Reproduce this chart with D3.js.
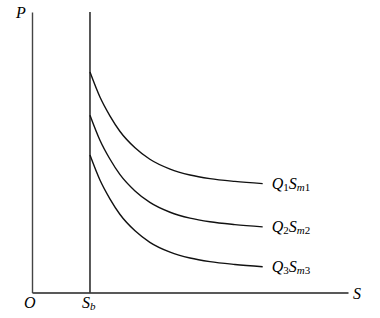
<!DOCTYPE html>
<html>
<head>
<meta charset="utf-8">
<script src="https://cdn.jsdelivr.net/npm/d3@7"></script>
<style>
  html, body { margin: 0; padding: 0; background: #fff; }
  svg { display: block; }
  text { font-family: "Liberation Serif", "Times New Roman", serif; fill: #000; }
</style>
</head>
<body>
<svg id="chart" width="380" height="318"></svg>
<script>
// ---- data ----
const sValues = [18.35, 21.5, 24.7, 27.8, 32.6, 37.3, 43.7, 50, 56.3, 64.2, 73];
const curve1 = [78.6, 69.7, 62.9, 57.5, 51.6, 47.5, 44.0, 41.9, 40.6, 39.6, 38.8];
const curve2 = [63.2, 54.3, 47.5, 42.1, 36.2, 32.1, 28.6, 26.5, 25.2, 24.2, 23.4];
const curve3 = [49.0, 40.1, 33.3, 27.9, 22.0, 17.9, 14.4, 12.3, 11.0, 10.0, 9.2];
const curveLabels = [["Q", "1", "S", "m1"], ["Q", "2", "S", "m2"], ["Q", "3", "S", "m3"]];
const sb = 18.35;

const svg = d3.select("#chart");
const x = d3.scaleLinear().domain([0, 100]).range([32, 348]);
const y = d3.scaleLinear().domain([0, 100]).range([292.5, 12]);

// axes (no ticks)
svg.append("g").attr("transform", `translate(0,${y(0)})`)
  .call(d3.axisBottom(x).tickValues([]).tickSizeOuter(0))
  .select(".domain").attr("stroke", "#222").attr("stroke-width", 1.4);
svg.append("g").attr("transform", `translate(${x(0)},0)`)
  .call(d3.axisLeft(y).tickValues([]).tickSizeOuter(0))
  .select(".domain").attr("stroke", "#444").attr("stroke-width", 1.4);

// Sb vertical line
svg.append("line")
  .attr("x1", x(sb)).attr("x2", x(sb))
  .attr("y1", y(100)).attr("y2", y(0))
  .attr("stroke", "#111").attr("stroke-width", 1.4);

const line = d3.line().x(d => x(d[0])).y(d => y(d[1])).curve(d3.curveMonotoneX);
[curve1, curve2, curve3].forEach((c, i) => {
  const pts = sValues.map((s, j) => [s, c[j]]);
  svg.append("path").attr("d", line(pts))
    .attr("fill", "none").attr("stroke", "#111").attr("stroke-width", 1.4);
  const lab = curveLabels[i];
  const t = svg.append("text")
    .attr("x", x(sValues[sValues.length - 1]) + 9)
    .attr("y", y(c[c.length - 1]) + 5)
    .attr("font-size", 16);
  t.append("tspan").attr("font-style", "italic").text(lab[0]);
  t.append("tspan").attr("font-size", 11).attr("dy", 2).text(lab[1]);
  t.append("tspan").attr("font-style", "italic").attr("dy", -2).text(lab[2]);
  t.append("tspan").attr("font-size", 11).attr("dy", 2).attr("font-style", "italic").text(lab[3].slice(0, 1));
  t.append("tspan").attr("font-size", 11).text(lab[3].slice(1));
});

// axis labels
svg.append("text").attr("x", 16).attr("y", 18).attr("font-size", 16)
  .attr("font-style", "italic").text("P");
svg.append("text").attr("x", 24).attr("y", 308).attr("font-size", 16)
  .attr("font-style", "italic").text("O");
const sbt = svg.append("text").attr("x", x(sb) - 8).attr("y", 308).attr("font-size", 16);
sbt.append("tspan").attr("font-style", "italic").text("S");
sbt.append("tspan").attr("font-style", "italic").attr("font-size", 11).attr("dy", 2).text("b");
svg.append("text").attr("x", 353).attr("y", 299).attr("font-size", 16)
  .attr("font-style", "italic").text("S");
</script>
</body>
</html>
